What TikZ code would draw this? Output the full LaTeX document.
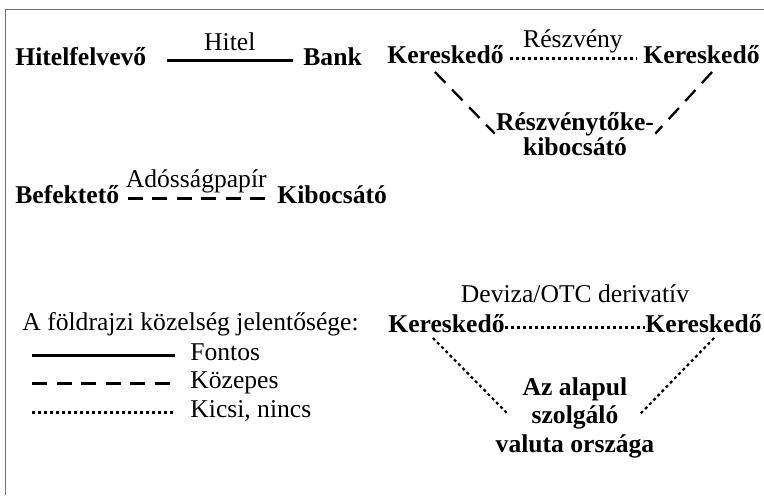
\documentclass[tikz,border=0pt]{standalone}
\usepackage{fontspec}
\setmainfont{Liberation Serif}
\usetikzlibrary{positioning}
\tikzset{
	every node/.style = {inner sep=0pt, font=\fontsize{12.8}{15}\selectfont},
	party/.style = {font=\fontsize{12.8}{15}\selectfont\bfseries},
	strong/.style = {line width=1.15pt},
	medium/.style = {line width=1.15pt, dash pattern=on 7.5pt off 4.75pt},
	weak/.style = {line width=1.1pt, dash pattern=on 1.5pt off 1.5pt}
}

\begin{document}
\begin{tikzpicture}[x=0.5pt, y=-0.5pt]
	\useasboundingbox (0,0) rectangle (764,495);
	% frame
	\draw[black!55, line width=0.75pt] (5.5,495) -- (5.5,9.5) -- (764,9.5);
	
	% loan
	\node[party, anchor=base west] (borrower) at (15,65) {Hitelfelvevő};
	\node[party, anchor=base west] (bank) at (303,65) {Bank};
	\draw[strong] ([xshift=10pt]borrower.mid east) -- node[above=4.5pt] {Hitel} ([xshift=-5pt]bank.mid west);
	
	% bond
	\node[party, anchor=base west] (investor) at (15,203) {Befektető};
	\node[party, anchor=base west] (issuer) at (277,203) {Kibocsátó};
	\draw[medium] ([xshift=4pt]investor.mid east) -- node[above=2.2pt] {Adósságpapír} ([xshift=-6pt]issuer.mid west);
	
	% equity
	\node[party, anchor=base west] (traderA) at (387,63) {Kereskedő};
	\node[party, anchor=base east] (traderB) at (760,63) {Kereskedő};
	\draw[weak] ([xshift=3pt]traderA.mid east) -- node[above=2.2pt] {Részvény} ([xshift=-3.5pt]traderB.mid west);
	\node[party, font=\fontsize{12.8}{12.5}\selectfont\bfseries, align=center, anchor=base] (equity) at (575,155) {Részvénytőke-\\kibocsátó};
	\draw[medium] ([shift={(-10.5,9)}]traderA.base) -- ([shift={(-1,0)}]equity.west);
	\draw[medium] ([shift={(10.5,9)}]traderB.base) -- ([shift={(1,0)}]equity.east);
	
	% fx / otc
	\node[party, anchor=base west] (traderC) at (388,332) {Kereskedő};
	\node[party, anchor=base east] (traderD) at (762,332) {Kereskedő};
	\draw[weak] (traderC.mid east) -- node[above=12pt] {Deviza/OTC derivatív} (traderD.mid west);
	\node[party, font=\fontsize{12.8}{14.25}\selectfont\bfseries, align=center, anchor=base] (country) at (575,452) {Az alapul\\szolgáló\\valuta országa};
	\draw[weak] ([shift={(-13.5,6)}]traderC.base) -- ([shift={(13,-3)}]country.west);
	\draw[weak] ([shift={(10.5,6)}]traderD.base) -- ([shift={(-15,-3)}]country.east);
	
	% legend
	\node[anchor=base west] (legend) at (22,330) {A földrajzi közelség jelentősége:};
	\node[anchor=base west] (important) at (190,360) {Fontos};
	\node[anchor=base west] (moderate) at (190,388) {Közepes};
	\node[anchor=base west] (minor) at (190,417) {Kicsi, nincs};
	\foreach \s/\n in {strong/important, medium/moderate, weak/minor}
		\draw[\s] ([xshift=-79pt]\n.mid west) -- ([xshift=-7.5pt]\n.mid west);
\end{tikzpicture}
\end{document}
